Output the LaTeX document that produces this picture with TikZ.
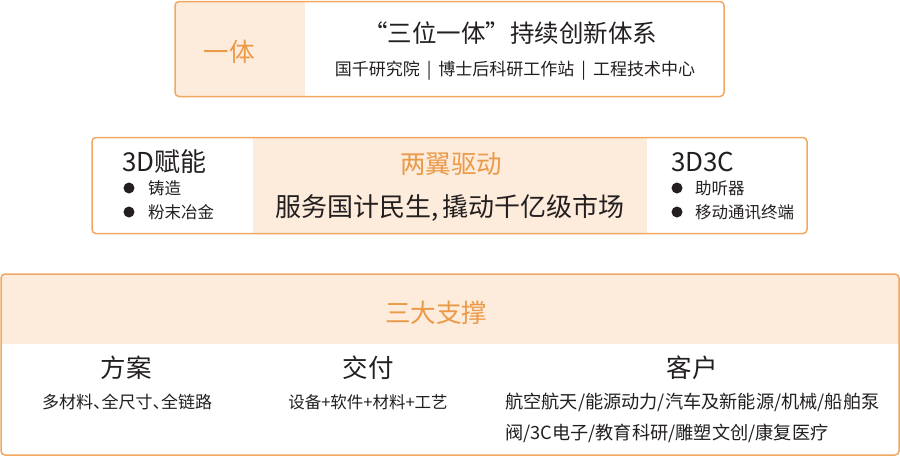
\documentclass[tikz,border=0pt]{standalone}
\usepackage{fontspec}
\setmainfont{Noto Sans CJK SC}
\definecolor{orgtxt}{HTML}{EB9A48}
\definecolor{orgline}{HTML}{F0A862}
\definecolor{pale}{HTML}{FDEBDB}
\definecolor{ink}{HTML}{231F20}
\newcommand{\dun}{、\hspace{-0.5em}}
\tikzset{
  boxline/.style={draw=orgline, line width=1.5pt, rounded corners=4pt},
  txt/.style={inner sep=0pt, text=ink},
  head/.style={inner sep=0pt, text=orgtxt, font=\fontsize{25.5}{30}\selectfont},
  big/.style={txt, font=\fontsize{25.5}{30}\selectfont},
  mid/.style={txt, font=\fontsize{17}{20}\selectfont},
  small/.style={txt, font=\fontsize{16.5}{19}\selectfont},
  dot/.style={fill=ink}
}
\begin{document}
\begin{tikzpicture}[x=1pt,y=-1pt]
\useasboundingbox (0,0) rectangle (900,456);
\fill[white] (0,0) rectangle (900,456);

% ---- top box
\begin{scope}
\clip[rounded corners=4pt] (175,1.5) rectangle (724,96.5);
\fill[pale] (175,1.5) rectangle (305,96.5);
\end{scope}
\draw[boxline] (175,1.5) rectangle (724,96.5);
\node[head] (yiti) at (229,52) {一体};
\node[txt, font=\fontsize{24.5}{30}\selectfont] (title) at (510,33) {“三位一体”持续创新体系};
\node[mid] (sub) at (515,71) {国千研究院\hspace{7pt}|\hspace{7pt}博士后科研工作站\hspace{7pt}|\hspace{7pt}工程技术中心};

% ---- middle box
\fill[pale] (253,137.5) rectangle (647,233.5);
\draw[boxline] (92,137.5) rectangle (807,233.5);
\node[txt, font=\fontsize{26}{30}\selectfont, anchor=west] (fn) at (122,162) {3D赋能};
\fill[dot] (129,188) circle (5.5);
\fill[dot] (129,212) circle (5.5);
\node[small, anchor=west] (zz) at (148,188) {铸造};
\node[small, anchor=west] (fm) at (148,212) {粉末冶金};
\node[head] (lyqd) at (451,164) {两翼驱动};
\node[txt, font=\fontsize{26}{30}\selectfont] (fw) at (450,208) {服务国计民生,\hspace{3pt}撬动千亿级市场};
\node[txt, font=\fontsize{26}{30}\selectfont, anchor=west] (c3) at (671,162) {3D3C};
\fill[dot] (677,188) circle (5.5);
\fill[dot] (677,212) circle (5.5);
\node[small, anchor=west] (tq) at (695,188) {助听器};
\node[small, anchor=west] (yd) at (695,212) {移动通讯终端};

% ---- bottom box
\begin{scope}
\clip[rounded corners=4pt] (1,274) rectangle (899,455);
\fill[pale] (1,274) rectangle (899,344);
\end{scope}
\draw[boxline] (1,274) rectangle (899,455);
\node[head] (sdzc) at (436,313) {三大支撑};
\node[big] (fa) at (126,368) {方案};
\node[txt, font=\fontsize{17}{20}\selectfont] (fad) at (127,402) {多材料\dun 全尺寸\dun 全链路};
\node[big] (jf) at (368,368) {交付};
\node[small] (jfd) at (368,402) {设备+软件+材料+工艺};
\node[big] (kh) at (692,368) {客户};
\node[txt, font=\fontsize{18.2}{22}\selectfont, anchor=west] (kh1) at (505,402) {航空航天/能源动力/汽车及新能源/机械/船舶泵};
\node[txt, font=\fontsize{18.2}{22}\selectfont, anchor=west] (kh2) at (505,433) {阀/3C电子/教育科研/雕塑文创/康复医疗};
\end{tikzpicture}
\end{document}
